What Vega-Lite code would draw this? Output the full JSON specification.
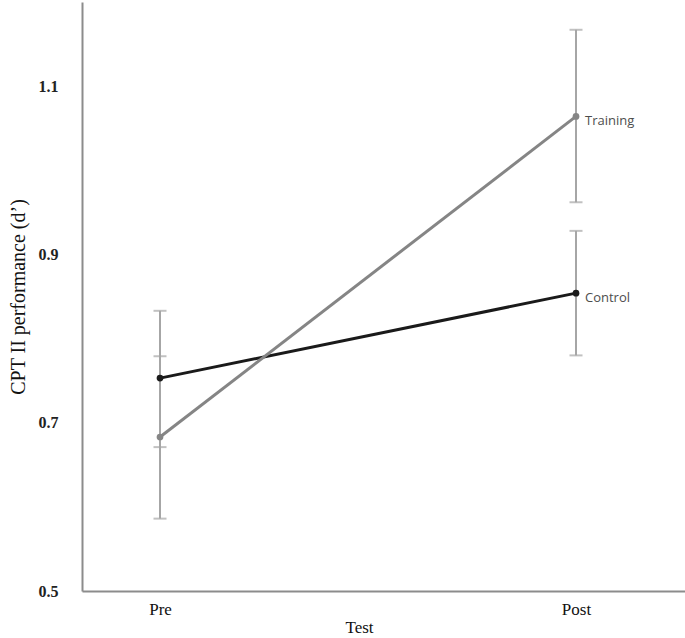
{
  "$schema": "https://vega.github.io/schema/vega-lite/v6.json",
  "width": 603,
  "height": 589,
  "autosize": {"type": "none"},
  "padding": {"left": 82, "top": 2, "right": 0, "bottom": 47},
  "background": "white",
  "config": {"view": {"stroke": null}},
  "data": {
    "values": [
      {"test": "Pre", "group": "Control", "mean": 0.753, "lo": 0.671, "hi": 0.833},
      {"test": "Post", "group": "Control", "mean": 0.854, "lo": 0.780, "hi": 0.928},
      {"test": "Pre", "group": "Training", "mean": 0.683, "lo": 0.586, "hi": 0.779},
      {"test": "Post", "group": "Training", "mean": 1.064, "lo": 0.962, "hi": 1.167}
    ]
  },
  "transform": [{"calculate": "datum.test === 'Pre' ? 0 : 1", "as": "ti"}],
  "encoding": {
    "x": {
      "field": "ti",
      "type": "quantitative",
      "scale": {"domain": [-0.1875, 1.262], "nice": false, "zero": false},
      "axis": {
        "title": "Test",
        "values": [0, 1],
        "labelExpr": "datum.value === 0 ? 'Pre' : 'Post'",
        "ticks": false,
        "grid": false,
        "domainColor": "#8c8c8c",
        "domainWidth": 2,
        "labelFont": "Liberation Serif",
        "labelFontSize": 17,
        "labelColor": "#111",
        "labelPadding": 10,
        "titleFont": "Liberation Serif",
        "titleFontSize": 17,
        "titleFontWeight": "normal",
        "titleColor": "#111",
        "titlePadding": 2,
        "titleX": 277,
        "titleAlign": "center"
      }
    },
    "y": {
      "type": "quantitative",
      "scale": {"domain": [0.5, 1.2], "nice": false, "zero": false},
      "axis": {
        "title": "CPT II performance (d’)",
        "values": [0.5, 0.7, 0.9, 1.1],
        "format": ".1f",
        "ticks": false,
        "grid": false,
        "domainColor": "#8c8c8c",
        "domainWidth": 2,
        "labelFont": "Liberation Serif",
        "labelFontSize": 16,
        "labelFontWeight": "bold",
        "labelColor": "#222",
        "labelPadding": 24,
        "titleFont": "Liberation Serif",
        "titleFontSize": 20,
        "titleFontWeight": "normal",
        "titleColor": "#111",
        "titlePadding": 10
      }
    }
  },
  "layer": [
    {
      "mark": {"type": "rule", "color": "#a6a6a6", "strokeWidth": 2},
      "encoding": {
        "y": {"field": "lo", "type": "quantitative"},
        "y2": {"field": "hi"}
      }
    },
    {
      "mark": {"type": "tick", "color": "#a6a6a6", "thickness": 2, "size": 13, "orient": "horizontal"},
      "encoding": {"y": {"field": "lo", "type": "quantitative"}}
    },
    {
      "mark": {"type": "tick", "color": "#a6a6a6", "thickness": 2, "size": 13, "orient": "horizontal"},
      "encoding": {"y": {"field": "hi", "type": "quantitative"}}
    },
    {
      "mark": {"type": "line", "strokeWidth": 3},
      "encoding": {
        "y": {"field": "mean", "type": "quantitative"},
        "detail": {"field": "group"},
        "color": {
          "field": "group",
          "type": "nominal",
          "scale": {"domain": ["Control", "Training"], "range": ["#1a1a1a", "#858585"]},
          "legend": null
        }
      }
    },
    {
      "mark": {"type": "point", "filled": true, "size": 45, "opacity": 1},
      "encoding": {
        "y": {"field": "mean", "type": "quantitative"},
        "color": {
          "field": "group",
          "type": "nominal",
          "scale": {"domain": ["Control", "Training"], "range": ["#1a1a1a", "#858585"]},
          "legend": null
        }
      }
    },
    {
      "transform": [{"filter": "datum.test === 'Post'"}],
      "mark": {"type": "text", "align": "left", "baseline": "middle", "dx": 9, "dy": 5, "font": "Open Sans", "fontSize": 13, "color": "#4d4d4d"},
      "encoding": {
        "y": {"field": "mean", "type": "quantitative"},
        "text": {"field": "group"}
      }
    }
  ]
}
